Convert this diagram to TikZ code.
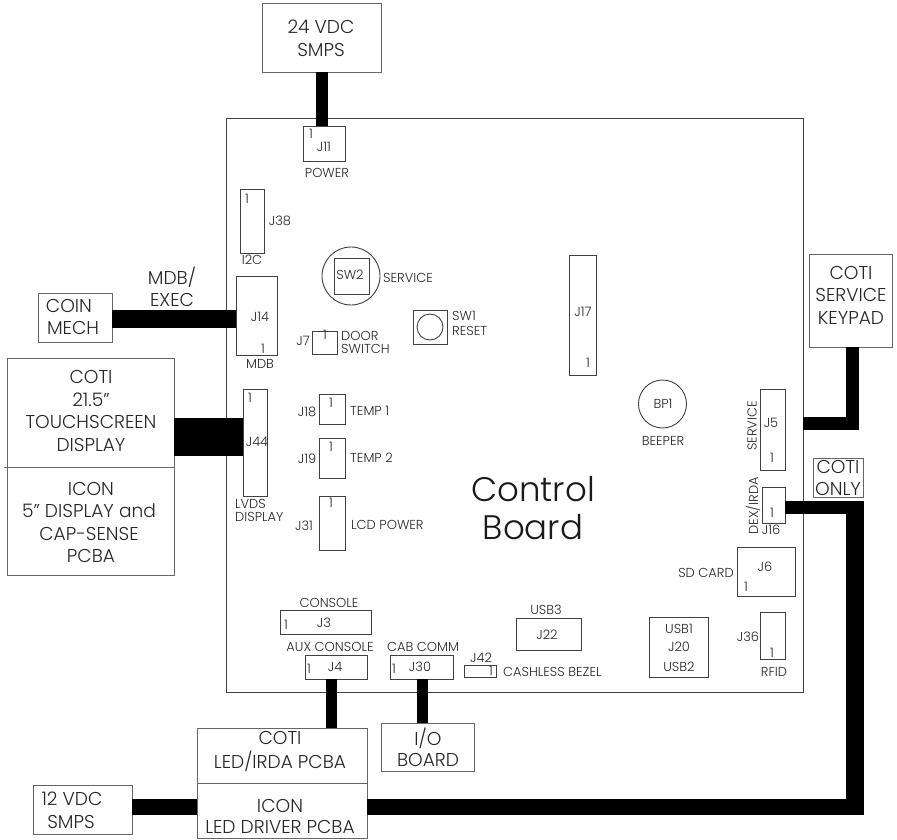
\documentclass[tikz,border=0pt]{standalone}
\usepackage{fontspec}
\setmainfont{Poppins}[UprightFont=* Light]
\newcommand{\bx}[6][thinbox]{\node[#1,minimum width={(#5-#3)*1pt},minimum height={(#6-#4)*1pt}] (#2) at ({(#3+#5)/2},{(#4+#6)/2}) {};}
\newcommand{\tx}[5][small]{\node[#1] (#2) at (#3,#4) {#5};}
\tikzset{
  thinbox/.style={draw=black!75,line width=0.9pt,inner sep=0pt,outer sep=0pt},
  outerbox/.style={draw=black!60,line width=0.9pt,inner sep=0pt,outer sep=0pt},
  small/.style={inner sep=0pt,text=black!85,font=\fontsize{13}{14}\selectfont},
  smallL/.style={small,anchor=west},
  mid/.style={inner sep=0pt,text=black!85,font=\fontsize{18.6}{22}\selectfont},
  big/.style={inner sep=0pt,text=black!90,font=\fontsize{34}{40}\selectfont},
  wire/.style={draw=black,line cap=butt,line join=miter}
}
\begin{document}
\begin{tikzpicture}[x=1pt,y=-1pt]
\useasboundingbox (0,0) rectangle (897,840);
% board
\bx{board}{226}{118}{803}{692}
% outer boxes
\bx[outerbox]{psu}{262}{3}{381}{72}
\bx[outerbox]{coin}{38}{293}{112}{342}
\bx[outerbox]{dispcoti}{7}{358}{174}{467}
\bx[outerbox]{dispicon}{7}{467}{174}{575}
\bx[outerbox]{keypad}{809}{254}{892}{347}
\bx[outerbox]{cotionly}{813}{458}{863}{497}
\bx[outerbox]{ledcoti}{197}{728}{367}{783}
\bx[outerbox]{ledicon}{197}{783}{367}{838}
\bx[outerbox]{io}{381}{723}{474}{771}
\bx[outerbox]{smps}{33}{785}{132}{834}
% connectors on board
\bx{j11}{303}{126}{345}{161}
\bx{j38}{240}{189}{264}{253}
\bx{j14}{236}{276}{277.5}{355}
\bx{j7}{312}{331}{337}{354}
\bx{sw2box}{334}{258}{369}{294}
\bx{sw1box}{413}{310}{447}{344}
\bx{j17}{569}{255}{596}{375}
\bx{j5}{760}{389}{785}{470}
\bx{j16}{762}{487}{785}{523}
\bx{j6}{737}{547}{795}{596}
\bx{j36}{760}{612}{785}{659}
\bx{j20}{649}{617}{708}{677}
\bx{j44}{243}{389}{267}{496}
\bx{j18}{319}{394}{345}{424}
\bx{j19}{319}{438}{345}{478}
\bx{j31}{319}{496}{345}{550}
\bx{j3}{280}{610}{371}{634}
\bx{j4}{305}{655}{367.5}{679}
\bx{j30}{390}{655}{453}{679}
\bx{j42}{464}{665}{496}{677}
\bx{j22}{516}{618}{581}{650}
\node[thinbox,circle,minimum size=58pt] (sw2) at (351,276) {};
\node[thinbox,circle,minimum size=26pt] (sw1) at (430,327) {};
\node[thinbox,circle,minimum size=48pt] (bp1) at (662.5,404) {};
% divider stub
\coordinate (dstub) at (4,467);
\draw[outerbox] (dstub) -- (dispcoti.south west);
% wire axes
\coordinate (a24) at (322,0);
\coordinate (acoin) at (0,319);
\coordinate (adisp) at (0,437);
\coordinate (akey) at (852.5,423.5);
\coordinate (adex) at (0,507.5);
\coordinate (avert) at (855,0);
\coordinate (abot) at (864,807);
\coordinate (aj4) at (331.5,0);
\coordinate (aj30) at (422.5,0);
\draw[wire,line width=12pt] (psu.south -| a24) -- (j11.north -| a24);
\draw[wire,line width=18pt] (coin.east |- acoin) -- (j14.west |- acoin);
\draw[wire,line width=38pt] (dispcoti.east |- adisp) -- (j44.west |- adisp);
\draw[wire,line width=13pt] (keypad.south -| akey) -- (akey) -- (akey -| board.east);
\draw[wire,line width=13pt] (j16.east |- adex) -- (abot |- adex);
\draw[wire,line width=18pt] (avert |- 0,501) -- (avert |- abot);
\draw[wire,line width=16pt] (ledicon.east |- abot) -- (abot);
\draw[wire,line width=16pt] (smps.east |- abot) -- (ledicon.west |- abot);
\draw[wire,line width=11pt] (j4.south -| aj4) -- (ledcoti.north -| aj4);
\draw[wire,line width=11pt] (j30.south -| aj30) -- (io.north -| aj30);
% outer texts
\tx[mid]{t1}{321}{27}{24 VDC}
\tx[mid]{t2}{321}{50}{SMPS}
\tx[mid]{t3}{69}{306}{COIN}
\tx[mid]{t4}{73}{328}{MECH}
\tx[mid]{t5}{172}{277}{MDB/}
\tx[mid]{t6}{172}{300}{EXEC}
\tx[mid]{t7}{91}{377}{COTI}
\tx[mid]{t8}{91}{400}{21.5''}
\tx[mid]{t9}{91}{422}{TOUCHSCREEN}
\tx[mid]{t10}{91}{445}{DISPLAY}
\tx[mid]{t11}{91}{489}{ICON}
\tx[mid]{t12}{89}{511}{5'' DISPLAY and}
\tx[mid]{t13}{89}{534}{CAP-SENSE}
\tx[mid]{t14}{91}{556}{PCBA}
\tx[mid]{t15}{851}{273}{COTI}
\tx[mid]{t16}{851}{295}{SERVICE}
\tx[mid]{t17}{851}{318}{KEYPAD}
\tx[mid]{t18}{838}{467}{COTI}
\tx[mid]{t19}{838}{489}{ONLY}
\tx[mid]{t20}{280}{738}{COTI}
\tx[mid]{t21}{280}{761}{LED/IRDA PCBA}
\tx[mid]{t22}{280}{806}{ICON}
\tx[mid]{t23}{280}{827}{LED DRIVER PCBA}
\tx[mid]{t24}{428}{738}{I/O}
\tx[mid]{t25}{428}{760}{BOARD}
\tx[mid]{t26}{72}{799}{12 VDC}
\tx[mid]{t27}{71}{822}{SMPS}
\tx[big]{t28}{533}{489}{Control}
\tx[big]{t29}{533}{527}{Board}
% small texts
\tx{s1}{324}{147}{J11}
\tx{s2}{311}{134}{1}
\tx{s3}{327}{173}{POWER}
\tx{s4}{247}{199}{1}
\tx{s5}{280}{221}{J38}
\tx{s6}{252}{260}{I2C}
\tx{s7}{260}{317}{J14}
\tx{s8}{263}{349}{1}
\tx{s9}{260}{364}{MDB}
\tx{s10}{325}{335}{1}
\tx{s11}{303}{341}{J7}
\tx[smallL]{s12}{341}{336}{DOOR}
\tx[smallL]{s13}{341}{349}{SWITCH}
\tx{s14}{350}{275}{SW2}
\tx[smallL]{s15}{383}{278}{SERVICE}
\tx[smallL]{s16}{452}{316}{SW1}
\tx[smallL]{s17}{452}{331}{RESET}
\tx{s18}{583}{312}{J17}
\tx{s19}{588}{363}{1}
\tx{s20}{663}{404}{BP1}
\tx{s21}{663}{441}{BEEPER}
\tx{s22}{771}{423}{J5}
\tx{s23}{772}{458}{1}
\tx[small,rotate=90]{s24}{752}{426}{SERVICE}
\tx{s25}{772}{513}{1}
\tx{s26}{771}{530}{J16}
\tx[small,rotate=90]{s27}{753}{506}{DEX/IRDA}
\tx{s28}{765}{567}{J6}
\tx{s29}{746}{587}{1}
\tx{s30}{706}{573}{SD CARD}
\tx{s31}{772}{653}{1}
\tx{s32}{748}{637}{J36}
\tx{s33}{774}{672}{RFID}
\tx{s34}{679}{629}{USB1}
\tx{s35}{679}{647}{J20}
\tx{s36}{679}{667}{USB2}
\tx{s37}{250}{398}{1}
\tx{s38}{257}{442}{J44}
\tx[smallL]{s39}{235}{504}{LVDS}
\tx[smallL]{s40}{235}{517}{DISPLAY}
\tx{s41}{331}{403}{1}
\tx{s42}{307}{412}{J18}
\tx[smallL]{s43}{350}{411}{TEMP 1}
\tx{s44}{331}{447}{1}
\tx{s45}{307}{459}{J19}
\tx[smallL]{s46}{350}{458}{TEMP 2}
\tx{s47}{331}{503}{1}
\tx{s48}{304}{526}{J31}
\tx[smallL]{s49}{351}{525}{LCD POWER}
\tx{s50}{329}{603}{CONSOLE}
\tx{s51}{286}{625}{1}
\tx{s52}{324}{623}{J3}
\tx{s53}{330}{647}{AUX CONSOLE}
\tx{s54}{309}{669}{1}
\tx{s55}{335}{667}{J4}
\tx{s56}{423}{647}{CAB COMM}
\tx{s57}{394}{669}{1}
\tx{s58}{420}{667}{J30}
\tx{s59}{481}{658}{J42}
\tx{s60}{491}{671}{1}
\tx[smallL]{s61}{503}{672}{CASHLESS BEZEL}
\tx{s62}{546}{610}{USB3}
\tx{s63}{547}{635}{J22}
\end{tikzpicture}
\end{document}
